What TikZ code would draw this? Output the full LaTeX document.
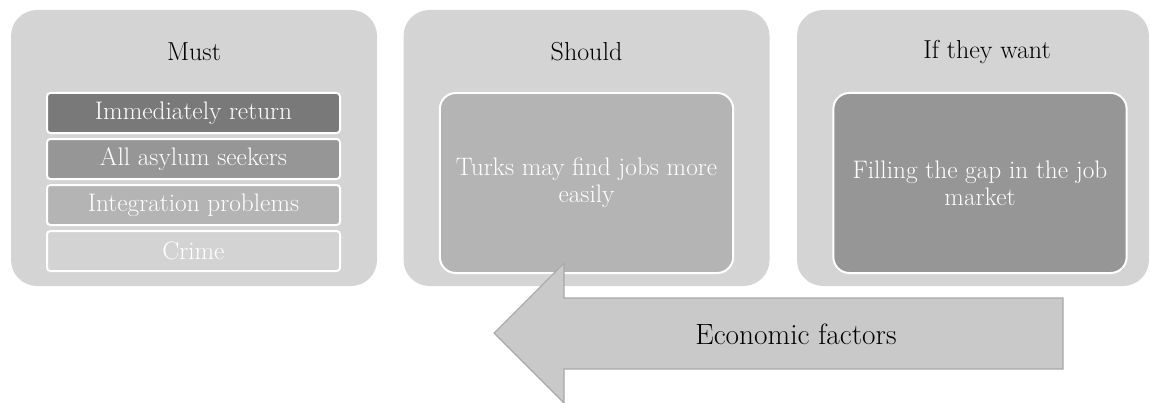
\documentclass[tikz,border=0pt]{standalone}
\usetikzlibrary{positioning,calc}
\definecolor{panelgray}{HTML}{D4D4D4}
\definecolor{darkgray}{HTML}{797979}
\definecolor{midgray}{HTML}{969696}
\definecolor{lightgray}{HTML}{B4B4B4}
\definecolor{palegray}{HTML}{D3D3D3}
\definecolor{arrowgray}{HTML}{C9C9C9}
\definecolor{edgegray}{HTML}{A8A8A8}
\tikzset{
    panel/.style = {fill=panelgray, rounded corners=19.5pt, inner sep=0pt,
        minimum width=274.5pt, minimum height=207pt},
    title/.style = {font=\fontsize{19.5}{22}\selectfont, text=black},
    stackbox/.style = {draw=white, line width=1.5pt, rounded corners=2.5pt,
        minimum width=219.75pt, minimum height=30pt, inner sep=0pt,
        text=white, font=\fontsize{19}{21}\selectfont},
    bigbox/.style = {draw=white, line width=1.5pt, rounded corners=12pt,
        minimum width=220pt, minimum height=135pt, align=center,
        text=white, font=\fontsize{19}{20.5}\selectfont},
    bigarrow/.style = {fill=arrowgray, draw=edgegray, line width=0.8pt}
}

\begin{document}
\begin{tikzpicture}[x=0.75pt, y=-0.75pt]
        \useasboundingbox (0,0) rectangle (1150,403);
        \node [panel] (must) at (194,148) {};
        \node [panel] (should) at (586.5,148) {};
        \node [panel, minimum width=264pt] (want) at (973,148) {};
        \node [title] (musttitle) at (194,52) {Must};
        \node [title] (shouldtitle) at (586.5,52) {Should};
        \node [title] (wanttitle) at (987,52) {If they want};
        \node [stackbox, fill=darkgray] (return) at (193.5,113) {Immediately return};
        \node [stackbox, fill=midgray, below of=return, node distance=34.5pt] (asylum) {All asylum seekers};
        \node [stackbox, fill=lightgray, below of=asylum, node distance=34.5pt] (integration) {Integration problems};
        \node [stackbox, fill=palegray, below of=integration, node distance=34.5pt] (crime) {Crime};
        \node [bigbox, fill=lightgray] (turks) at (586.5,183) {Turks may find jobs more\\easily};
        \node [bigbox, fill=midgray] (gap) at (980,183) {Filling the gap in the job\\market};
        \draw [bigarrow] (494,333) -- (564,263) -- (564,298) -- (1063,298) -- (1063,369)
            -- (564,369) -- (564,403) -- cycle;
        \node [font=\fontsize{22}{26}\selectfont] (economic) at (796,334) {Economic factors};
    \end{tikzpicture}
\end{document}
